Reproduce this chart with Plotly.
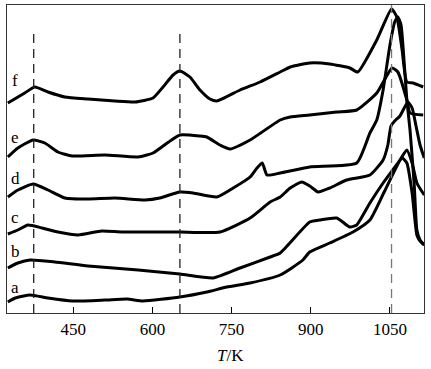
import plotly.graph_objects as go

# Temperature (K) and intensity (arbitrary, stacked)
T_f = [326, 358, 377, 402, 434, 478, 529, 567, 601, 620, 639, 652, 671, 690, 709, 722, 766, 804, 842, 861, 898, 936, 974, 989, 1025, 1053, 1063, 1073, 1082, 1094, 1113]
I_f = [210, 220, 226, 221, 216, 214, 212, 211, 215, 226, 238, 242, 236, 223, 214, 212, 223, 231, 241, 246, 250, 249, 245, 241, 273, 304, 296, 263, 231, 230, 226]

T_e = [326, 345, 374, 396, 421, 448, 510, 573, 601, 628, 652, 690, 703, 728, 747, 785, 842, 861, 898, 949, 987, 1025, 1054, 1065, 1082, 1088, 1113]
I_e = [156, 165, 173, 170, 161, 157, 158, 156, 160, 170, 178, 177, 176, 168, 164, 173, 193, 196, 198, 201, 203, 220, 245, 241, 213, 200, 198]

T_d = [326, 345, 374, 402, 434, 478, 529, 586, 614, 652, 677, 722, 753, 785, 798, 808, 817, 842, 898, 987, 1012, 1025, 1037, 1050, 1059, 1065, 1071, 1077, 1082, 1088, 1096, 1101, 1107, 1115]
I_d = [116, 123, 129, 123, 115, 114, 115, 113, 115, 121, 120, 116, 125, 136, 145, 150, 138, 140, 146, 150, 180, 193, 223, 268, 291, 296, 288, 250, 213, 183, 128, 83, 73, 68]

T_c = [326, 345, 364, 391, 421, 459, 504, 542, 601, 652, 728, 785, 823, 842, 861, 883, 898, 914, 936, 968, 1012, 1037, 1046, 1052, 1059, 1069, 1077, 1084, 1092, 1099, 1107, 1115]
I_c = [79, 83, 88, 85, 81, 78, 82, 81, 81, 81, 81, 95, 111, 116, 125, 131, 127, 121, 125, 133, 138, 153, 168, 187, 192, 197, 205, 211, 205, 188, 168, 155]

T_b = [326, 345, 368, 415, 478, 573, 652, 715, 766, 823, 842, 898, 917, 949, 974, 987, 1012, 1037, 1069, 1082, 1092, 1101, 1115]
I_b = [45, 50, 53, 51, 47, 43, 39, 35, 45, 56, 60, 91, 93, 95, 86, 88, 110, 130, 153, 163, 150, 130, 118]

T_a = [326, 340, 368, 402, 448, 510, 552, 582, 652, 703, 741, 785, 842, 885, 898, 936, 980, 1012, 1040, 1073, 1082, 1092, 1101, 1107, 1115]
I_a = [11, 15, 18, 15, 12, 13, 14, 12, 16, 21, 26, 30, 38, 53, 61, 70, 81, 93, 122, 155, 150, 120, 78, 72, 68]

series_names = ["a", "b", "c", "d", "e", "f"]
series_T = [T_a, T_b, T_c, T_d, T_e, T_f]
series_I = [I_a, I_b, I_c, I_d, I_e, I_f]

ref_temps = [375, 652, 1053]
tick_vals = [450, 600, 750, 900, 1050]

SERIF = "Liberation Serif, Times New Roman, serif"

fig = go.Figure()
for name, T, I in zip(series_names, series_T, series_I):
    fig.add_trace(go.Scatter(x=T, y=I, mode="lines", name=name,
                             line=dict(color="black", width=3, shape="spline", smoothing=0.5),
                             showlegend=False, hoverinfo="skip"))

# dashed reference lines
for i, t in enumerate(ref_temps):
    top = 308 if i == 2 else 280
    col = "#777777" if i == 2 else "#222222"
    fig.add_shape(type="line", xref="x", yref="y", x0=t, x1=t, y0=0, y1=top,
                  line=dict(color=col, width=1.3, dash="9px,6px"))

# curve labels
label_y = {"a": 26, "b": 62, "c": 96, "d": 135, "e": 176, "f": 233}
for n in series_names:
    fig.add_annotation(x=340, y=label_y[n], xref="x", yref="y", text=n, showarrow=False,
                       font=dict(family=SERIF, size=17, color="black"))

fig.add_annotation(x=748, y=0, xref="x", yref="paper", yshift=-42, yanchor="middle",
                   text="<i>T</i>/K", showarrow=False,
                   font=dict(family=SERIF, size=17, color="black"))

fig.update_layout(
    width=431, height=369,
    margin=dict(l=7, r=7, t=5, b=56),
    paper_bgcolor="white", plot_bgcolor="white",
    xaxis=dict(range=[324.4, 1114.5], tickvals=tick_vals, ticks="inside", ticklen=6,
               tickcolor="black", showgrid=False, zeroline=False, showline=True,
               linecolor="#333333", linewidth=1.2, mirror=True,
               tickfont=dict(family=SERIF, size=17, color="black")),
    yaxis=dict(range=[0, 308], showticklabels=False, ticks="", showgrid=False,
               zeroline=False, showline=True, linecolor="#333333", linewidth=1.2, mirror=True),
)

fig.write_html("out.html")
